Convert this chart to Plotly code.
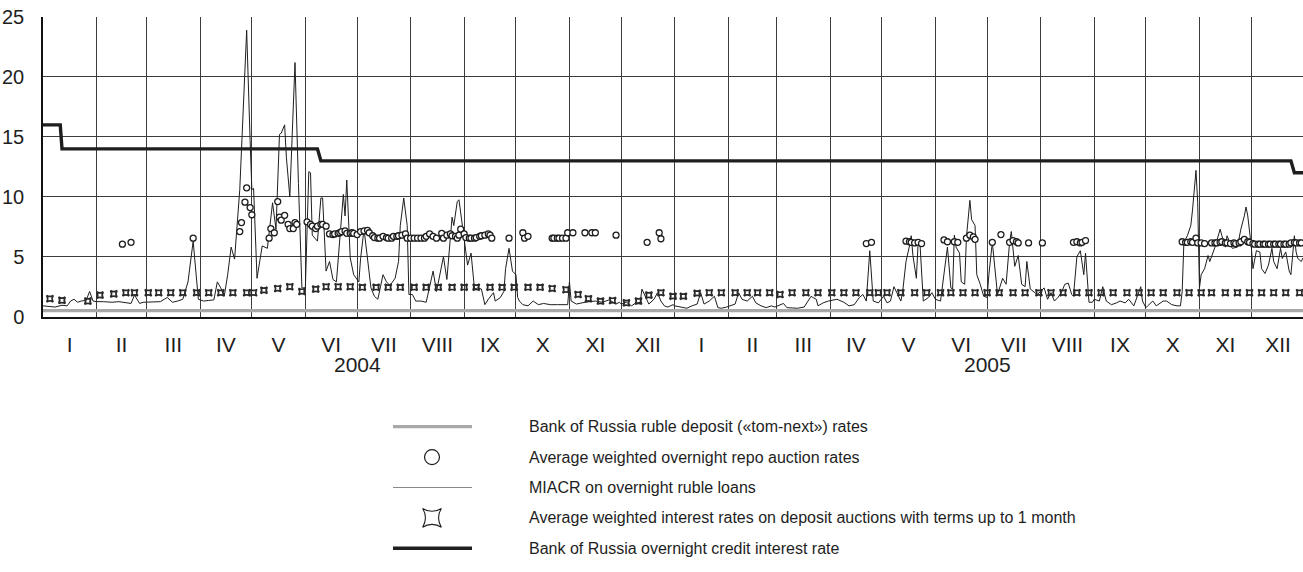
import pandas as pd
import plotly.graph_objects as go

# ---------------- data ----------------
START = pd.Timestamp("2004-01-01")
END_DAY = 730  # 2005-12-31

years = ["2004", "2005"]
month_labels = ["I", "II", "III", "IV", "V", "VI", "VII", "VIII", "IX", "X", "XI", "XII"]
y_ticks = [0, 5, 10, 15, 20, 25]

# Bank of Russia ruble deposit ("tom-next") rate
tomnext_days = [0, 730]
tomnext_vals = [0.5, 0.5]

# Bank of Russia overnight credit interest rate
credit_days = [0, 10, 11, 159, 161, 723, 725, 730]
credit_vals = [16, 16, 14, 14, 13, 13, 12, 12]

# MIACR on overnight ruble loans (day offset from 2004-01-01, %)
miacr_days_2004 = [
    0, 4, 7, 11, 14, 16, 18, 20, 22, 25, 27, 29,
    31, 35, 40, 44, 48, 51, 53, 56, 58,
    60, 64, 68, 72, 75, 78, 81, 84, 87, 90,
    93, 96, 99, 101, 103, 105, 107, 109, 111, 114, 116, 118, 120, 121,
    122, 124, 127, 130, 133, 135, 137, 138, 140, 141, 143, 146, 148, 150, 152,
    154, 155, 156, 159, 161, 162, 164, 166, 168, 170, 174, 175, 176, 178, 180, 183,
    184, 186, 188, 190, 192, 194, 197, 199, 201, 204, 206, 207, 209, 211, 212,
    214, 216, 219, 222, 224, 226, 228, 230, 232, 234, 236, 237, 238, 240, 241, 243,
    245, 246, 248, 249, 250, 252, 254, 256, 258, 261, 262, 265, 267, 268, 270, 272, 274, 275,
    276, 278, 281, 284, 287, 290, 294, 298, 302, 304, 305, 306,
    309, 314, 320, 324, 328, 332, 334,
    335, 338, 341, 343, 346, 347, 349, 351, 354, 356, 358, 360, 362, 365,
]
miacr_vals_2004 = [
    0.9, 0.85, 0.8, 0.95, 0.9, 1.3, 1.45, 1.2, 1.3, 1.36, 2.1, 1.3,
    1.25, 1.25, 1.2, 1.25, 1.2, 1.1, 1.8, 1.1, 1.2,
    1.2, 1.2, 1.25, 1.6, 1.2, 1.3, 1.45, 2.9, 6.3, 1.45,
    1.3, 1.35, 1.4, 2.9, 2.4, 1.7, 3.5, 5.8, 4.8, 10.6, 16.8, 23.9, 14.7, 10.6,
    10.7, 3.2, 5.9, 5.7, 9.5, 7.3, 15.2, 15.3, 16.0, 13.3, 10.0, 21.2, 11.1, 2.4, 2.4,
    12.1, 12.0, 6.8, 6.3, 9.9, 9.9, 3.8, 4.6, 3.1, 2.9, 10.2, 8.4, 11.4, 4.9, 3.5, 2.9,
    4.85, 7.3, 4.6, 2.4, 1.7, 1.45, 3.5, 2.9, 2.6, 3.2, 4.6, 7.6, 9.9, 7.6, 1.85,
    1.85, 1.3, 1.3, 1.2, 2.4, 3.8, 2.1, 3.5, 5.0, 3.1, 6.2, 8.3, 7.6, 9.6, 9.75, 7.6,
    5.1, 4.3, 5.3, 3.5, 2.3, 2.4, 2.3, 1.0, 1.45, 2.0, 1.3, 1.6, 2.1, 4.0, 5.7, 3.8, 3.5, 1.6,
    1.3, 1.0, 0.9, 1.3, 1.0, 1.1, 1.0, 1.0, 1.0, 1.0, 2.9, 1.3,
    1.05, 1.2, 1.3, 1.2, 1.4, 1.05, 1.2,
    1.05, 1.2, 0.9, 1.1, 1.2, 2.3, 1.7, 1.05, 1.45, 2.0, 1.3, 0.9, 0.8, 1.0,
]
miacr_days_2005 = [
    366, 369, 373, 376, 379, 381, 383, 386, 389, 391, 393, 396,
    398, 401, 403, 405, 408, 411, 413, 416, 419, 422, 424,
    426, 429, 431, 433, 437, 441, 443, 445, 446, 448, 449, 452, 455,
    458, 460, 464, 467, 470, 473, 475, 477, 479, 481, 484,
    487, 489, 491, 493, 495, 497, 498, 500, 502, 503, 504, 506, 507, 508, 510, 513, 515, 517,
    520, 522, 524, 526, 527, 528, 529, 531, 532, 534, 535, 537, 538, 540, 541, 543, 545, 547,
    548, 550, 551, 553, 554, 556, 558, 560, 561, 563, 565, 567, 569, 570, 572, 574, 576, 578,
    580, 582, 584, 586, 588, 590, 592, 594, 596, 597, 599, 601, 603, 604, 606, 608, 609,
    612, 613, 614, 616, 619, 622, 624, 627, 629, 632, 634, 636, 637, 639,
    640, 643, 645, 648, 649, 651, 654, 657, 659, 660, 661, 663, 665, 666, 668, 669, 670,
    671, 673, 675, 676, 679, 682, 683, 685, 686, 689, 692, 694, 696, 697, 698, 700,
    701, 703, 705, 706, 708, 710, 712, 713, 715, 717, 718, 720, 722, 723, 725, 726, 727, 729, 730,
]
miacr_vals_2005 = [
    0.9, 0.8, 0.7, 0.9, 1.05, 2.0, 1.05, 1.3, 1.7, 0.75, 0.7, 0.8,
    0.9, 1.05, 2.0, 1.45, 1.3, 1.7, 1.15, 0.9, 0.75, 0.9, 0.8,
    0.9, 1.1, 0.75, 0.75, 0.7, 0.8, 1.3, 1.7, 1.6, 1.45, 0.9, 1.15, 1.3,
    1.36, 1.45, 1.2, 0.9, 1.0, 1.6, 1.85, 1.3, 5.5, 1.3, 1.15,
    1.7, 1.15, 1.3, 2.5, 1.85, 1.3, 2.0, 4.6, 5.9, 6.75, 5.1, 3.2, 6.1, 6.35, 1.3, 1.6, 2.0, 1.45,
    1.3, 3.5, 5.8, 2.4, 2.3, 6.8, 5.8, 5.3, 2.9, 2.7, 6.6, 9.7, 8.1, 7.6, 3.5, 2.7, 1.7, 1.6,
    3.5, 6.2, 4.6, 1.85, 2.3, 3.2, 2.7, 6.2, 7.1, 4.2, 5.1, 2.7, 2.5, 4.6, 2.3, 2.1, 1.85, 2.1,
    2.4, 1.45, 2.0, 1.3, 1.6, 2.0, 2.7, 2.8, 1.85, 1.7, 5.0, 5.5, 3.5, 5.3, 1.2, 1.2, 1.45,
    1.3, 1.85, 2.5, 1.3, 1.0, 1.15, 1.3, 1.15, 1.45, 0.9, 1.7, 2.5, 1.3, 0.75,
    0.9, 1.3, 0.9, 1.15, 1.3, 1.3, 1.0, 0.9, 0.9, 2.1, 6.2, 6.75, 7.6, 8.9, 12.2, 9.5, 2.4,
    3.5, 4.0, 5.1, 4.6, 5.8, 7.3, 6.75, 5.8, 6.75, 5.7, 5.8, 7.3, 8.4, 9.15, 8.4, 5.9,
    4.0, 5.5, 5.4, 4.0, 3.6, 4.3, 5.7, 4.6, 4.0, 5.7, 4.85, 5.4, 3.8, 3.5, 6.75, 5.4, 4.85, 4.6, 4.9,
]

# Average weighted overnight repo auction rates
repo_days = [
    46, 51, 87, 114, 115, 117, 118, 120, 121,
    131, 132, 134, 136, 137, 138, 140, 142, 143, 145, 146, 147,
    153, 155, 156, 158, 159, 161, 162, 164, 166, 168, 169, 171, 172, 173, 175, 176, 178, 179, 180,
    182, 184, 186, 188, 189, 191, 192, 194, 195, 197, 199, 200, 202, 203, 205, 206, 208, 210, 211,
    213, 215, 217, 219, 221, 222, 224, 226, 228, 231, 232, 234, 236, 237, 239, 240, 241, 242,
    244, 245, 247, 248, 250, 251, 253, 254, 256, 258, 259, 260, 270,
    278, 279, 281, 295, 296, 298, 299, 301, 303, 304, 307, 314, 318, 320, 332, 350, 357, 358,
    477, 480, 500, 502, 503, 505, 507, 509, 522, 524, 528, 530, 535, 537, 539, 540,
    550, 555, 560, 562, 564, 565, 571, 579, 597, 599, 601, 602, 604,
    660, 662, 663, 665, 666, 668, 669, 671, 673,
    677, 679, 680, 682, 683, 685, 686, 688, 690, 691, 693, 694, 696, 698, 699,
    701, 702, 704, 705, 707, 708, 710, 711, 713, 714, 716, 717, 719, 720, 722, 723, 725, 726, 728, 729,
]
repo_vals = [
    6.05, 6.2, 6.55, 7.1, 7.85, 9.55, 10.75, 9.1, 8.5,
    6.55, 7.35, 7.0, 9.6, 8.3, 8.05, 8.45, 7.7, 7.35, 7.35, 7.85, 7.7,
    7.9, 7.7, 7.55, 7.35, 7.55, 7.7, 7.7, 7.55, 6.9, 6.85, 6.9, 6.95, 7.0, 7.1, 7.15, 6.95, 6.95, 7.0, 6.95,
    6.85, 7.1, 7.15, 7.2, 7.0, 6.75, 6.6, 6.55, 6.55, 6.7, 6.6, 6.55, 6.55, 6.7, 6.7, 6.75, 6.8, 6.9, 6.55,
    6.55, 6.55, 6.55, 6.55, 6.55, 6.7, 6.9, 6.7, 6.55, 6.95, 6.55, 6.8, 6.9, 6.75, 6.7, 6.55, 6.8, 7.3,
    6.9, 6.6, 6.55, 6.55, 6.55, 6.6, 6.7, 6.75, 6.8, 6.9, 6.8, 6.55, 6.55,
    7.0, 6.55, 6.7, 6.55, 6.55, 6.55, 6.55, 6.55, 6.55, 7.0, 7.0, 7.0, 7.0, 7.0, 6.8, 6.2, 7.0, 6.5,
    6.1, 6.2, 6.3, 6.25, 6.2, 6.15, 6.2, 6.1, 6.4, 6.25, 6.25, 6.2, 6.55, 6.8, 6.65, 6.45,
    6.2, 6.85, 6.2, 6.35, 6.25, 6.15, 6.15, 6.15, 6.2, 6.25, 6.15, 6.2, 6.35,
    6.25, 6.2, 6.2, 6.25, 6.2, 6.55, 6.15, 6.15, 6.1,
    6.15, 6.15, 6.15, 6.2, 6.25, 6.15, 6.15, 6.1, 6.15, 6.1, 6.15, 6.25, 6.45, 6.25, 6.2,
    6.1, 6.05, 6.05, 6.05, 6.05, 6.05, 6.05, 6.05, 6.05, 6.05, 6.05, 6.05, 6.05, 6.05, 6.05, 6.15, 6.2, 6.15, 6.15, 6.15,
]

# Average weighted interest rates on deposit auctions with terms up to 1 month
depo_days = [
    4, 11, 26, 33, 41, 48, 53, 61, 67, 74, 81, 89, 96, 103, 110, 118, 122, 128, 136, 143, 150, 158, 164,
    171, 178, 185, 193, 200, 207, 215, 222, 229, 237, 244, 251, 259, 266, 273, 281, 288,
    295, 303, 310, 316, 323, 330, 338, 345, 351, 358, 365,
    371, 379, 386, 393, 401, 408, 414, 421, 427, 434, 442, 449, 457, 464, 471, 479, 484, 489, 497,
    505, 512, 520, 526, 533, 540, 547, 554, 562, 569, 577, 584, 591, 599, 606, 613, 620, 628, 635,
    642, 649, 657, 664, 671, 677, 685, 692, 699, 706, 713, 720, 728,
]
depo_vals = [
    1.5, 1.36, 1.3, 1.8, 1.9, 2.0, 2.0, 2.0, 2.0, 2.0, 2.0, 2.0, 2.0, 2.0, 2.0, 2.0, 2.0, 2.2, 2.35, 2.5, 2.1, 2.3, 2.5,
    2.5, 2.5, 2.45, 2.45, 2.45, 2.45, 2.45, 2.45, 2.45, 2.45, 2.45, 2.45, 2.45, 2.45, 2.45, 2.45, 2.45,
    2.35, 2.25, 1.85, 1.5, 1.3, 1.35, 1.15, 1.3, 1.8, 2.0, 1.7,
    1.7, 1.95, 2.0, 2.0, 2.0, 2.0, 2.0, 2.0, 1.85, 2.0, 2.0, 2.0, 2.0, 2.0, 2.0, 2.0, 2.0, 2.0, 2.0,
    2.0, 2.0, 2.0, 2.0, 2.0, 2.0, 2.0, 2.0, 2.0, 2.0, 2.0, 2.0, 2.0, 2.0, 2.0, 2.0, 2.0, 2.0, 2.0,
    2.0, 2.0, 2.0, 2.0, 2.0, 2.0, 2.0, 2.0, 2.0, 2.0, 2.0, 2.0, 2.0,
]

legend_texts = [
    "Bank of Russia ruble deposit (\u00abtom-next\u00bb) rates",
    "Average weighted overnight repo auction rates",
    "MIACR on overnight ruble loans",
    "Average weighted interest rates on deposit auctions with terms up to 1 month",
    "Bank of Russia overnight credit interest rate",
]

# ---------------- helpers ----------------
def to_dates(days):
    return [START + pd.Timedelta(days=int(d)) for d in days]

FONT = "Liberation Sans Narrow, Arial Narrow, Liberation Sans, sans-serif"
INK = "#1e1e1e"
GRID = "#3c3c3c"

month_starts = pd.date_range("2004-01-01", periods=25, freq="MS")
month_mids = [a + (b - a) / 2 for a, b in zip(month_starts[:-1], month_starts[1:])]
tick_text = month_labels * len(years)

W, H = 1303, 572
ML, MT = 43, 17
plot_h = H - MT
y_dom_bottom = 1 - (322.7 - MT) / plot_h

def paper_y(px):
    return 1 - (px - MT) / plot_h

fig = go.Figure()

# main series
fig.add_trace(go.Scatter(x=to_dates(tomnext_days), y=tomnext_vals, mode="lines",
                         line=dict(color="#a8a8a8", width=3.2), hoverinfo="skip"))
fig.add_trace(go.Scatter(x=to_dates(miacr_days_2004 + miacr_days_2005),
                         y=miacr_vals_2004 + miacr_vals_2005, mode="lines",
                         line=dict(color=INK, width=1)))
fig.add_trace(go.Scatter(x=to_dates(depo_days), y=depo_vals, mode="markers",
                         marker=dict(symbol="star-square-open", size=6, color="#2a2a2a",
                                     line=dict(width=1.7, color="#2a2a2a"))))
fig.add_trace(go.Scatter(x=to_dates(repo_days), y=repo_vals, mode="markers",
                         marker=dict(symbol="circle", size=6, color="white",
                                     line=dict(width=1.3, color=INK))))
fig.add_trace(go.Scatter(x=to_dates(credit_days), y=credit_vals, mode="lines",
                         line=dict(color=INK, width=3.4)))

# legend keys drawn on a helper axis pair (x in page pixels, y in rows)
key_x0, key_x1, key_mid, text_x = 393, 472, 432, 527
legend_styles = [
    ("line", dict(color="#a8a8a8", width=3.2)),
    ("marker", dict(symbol="circle-open", size=15, color=INK, line=dict(width=1.2, color=INK))),
    ("line", dict(color="#8a8a8a", width=1.2)),
    ("marker", dict(symbol="star-square-open", size=17, color=INK, line=dict(width=1.1, color=INK))),
    ("line", dict(color=INK, width=3.4)),
]
for row, (kind, style) in enumerate(legend_styles):
    if kind == "line":
        fig.add_trace(go.Scatter(x=[key_x0, key_x1], y=[row, row], mode="lines", line=style,
                                 xaxis="x2", yaxis="y2", hoverinfo="skip"))
    else:
        fig.add_trace(go.Scatter(x=[key_mid], y=[row], mode="markers", marker=style,
                                 xaxis="x2", yaxis="y2", hoverinfo="skip"))
    fig.add_annotation(x=text_x, y=row, xref="x2", yref="y2", text=legend_texts[row],
                       showarrow=False, xanchor="left", yanchor="middle",
                       font=dict(family=FONT, size=16, color=INK))

# year labels
for yr in years:
    fig.add_annotation(x=pd.Timestamp(f"{yr}-07-01"), y=paper_y(372), xref="x", yref="paper",
                       text=yr, showarrow=False, xanchor="center", yanchor="middle",
                       font=dict(family=FONT, size=21, color=INK))

leg_top_px, leg_bot_px = 420, H
row0_px, row_gap = 435, 31

fig.update_layout(
    width=W, height=H,
    margin=dict(l=ML, r=0, t=MT, b=0, pad=0),
    paper_bgcolor="white", plot_bgcolor="white",
    showlegend=False,
    font=dict(family=FONT, color=INK),
    xaxis=dict(
        type="date",
        range=[START, START + pd.Timedelta(days=END_DAY)],
        domain=[0, 1],
        tickmode="array", tickvals=month_mids, ticktext=tick_text,
        ticks="", showgrid=False, zeroline=False,
        showline=True, linecolor="#111111", linewidth=1.5,
        tickfont=dict(family=FONT, size=21, color=INK),
        ticklabelstandoff=8,
        minor=dict(tickmode="array", tickvals=list(month_starts[1:24]), showgrid=True,
                   gridcolor=GRID, gridwidth=1, ticks=""),
        anchor="y",
    ),
    yaxis=dict(
        range=[0, 25], domain=[y_dom_bottom, 1],
        tickmode="array", tickvals=y_ticks,
        showgrid=True, gridcolor=GRID, gridwidth=1, zeroline=False,
        showline=True, linecolor="#111111", linewidth=1.5,
        ticks="", ticklabelstandoff=13,
        tickfont=dict(family=FONT, size=20, color=INK),
        anchor="x",
    ),
    xaxis2=dict(domain=[(380 - ML) / (W - ML), 1], range=[380, W], visible=False,
                anchor="y2", fixedrange=True),
    yaxis2=dict(domain=[0, paper_y(leg_top_px)],
                range=[(leg_bot_px - row0_px) / row_gap, (leg_top_px - row0_px) / row_gap],
                visible=False, anchor="x2", fixedrange=True),
)

fig.write_html("out.html")
